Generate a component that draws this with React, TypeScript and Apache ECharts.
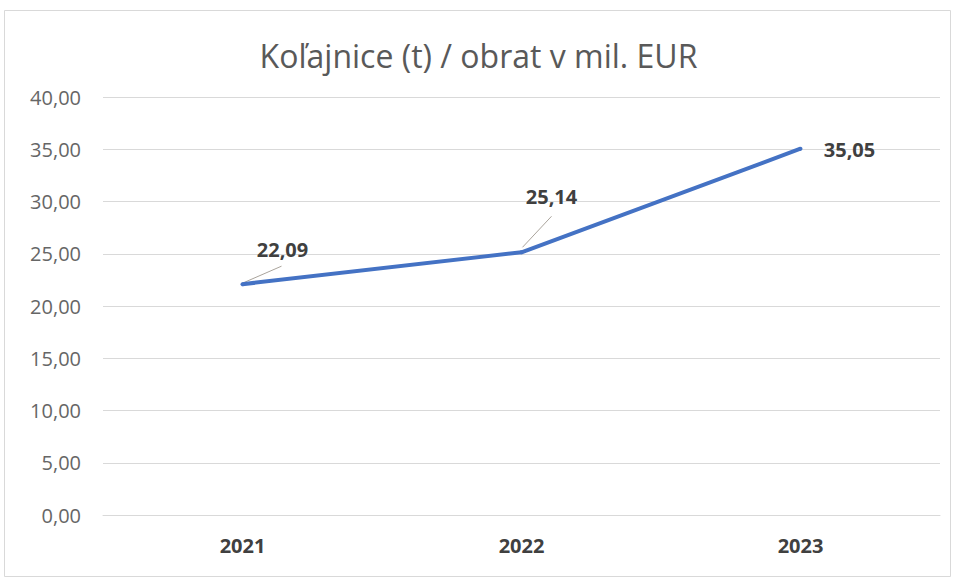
import React, { useEffect, useRef } from "react";
import * as echarts from "echarts";

const titleText = "Koľajnice (t) / obrat v mil. EUR";
const categories = ["2021", "2022", "2023"];
const values = [22.09, 25.14, 35.05];
const yMin = 0;
const yMax = 40;
const yInterval = 5;

const fmt = (v: number) => v.toFixed(2).replace(".", ",");

// label offsets from each point, and leader line segments (relative to each point)
const labelOffsets = [
  [40, -35],
  [30, -56],
  [49, 1],
];
const leaderLines: (number[] | null)[] = [
  [0, -1, 39, -18],
  [1, -5, 30, -36],
  null,
];

export default function App() {
  const ref = useRef<HTMLDivElement>(null);
  useEffect(() => {
    if (!ref.current) return;
    const chart = echarts.init(ref.current, undefined, { renderer: "svg" });
    chart.setOption({
      animation: false,
      backgroundColor: "#ffffff",
      textStyle: { fontFamily: "Open Sans" },
      title: {
        text: titleText,
        left: "center",
        top: 34,
        textStyle: { fontFamily: "Open Sans", fontSize: 32, fontWeight: "normal", color: "#595959" },
      },
      grid: { left: 103, right: 17, top: 97, bottom: 66, containLabel: false },
      xAxis: {
        type: "category",
        data: categories,
        boundaryGap: true,
        axisLine: { show: true, lineStyle: { color: "#d9d9d9", width: 1 } },
        axisTick: { show: false },
        axisLabel: { fontSize: 20, fontWeight: "bold", color: "#404040", margin: 20 },
      },
      yAxis: {
        type: "value",
        min: yMin,
        max: yMax,
        interval: yInterval,
        axisLine: { show: false },
        axisTick: { show: false },
        splitLine: { lineStyle: { color: "#d9d9d9", width: 1 } },
        axisLabel: { fontSize: 20, color: "#666666", margin: 22, formatter: (v: number) => fmt(v) },
      },
      series: [
        {
          type: "line",
          data: values.map((v, i) => ({
            value: v,
            label: { offset: labelOffsets[i] },
          })),
          symbol: "circle",
          symbolSize: 4,
          showSymbol: true,
          itemStyle: { color: "#4472C4" },
          lineStyle: { color: "#4472C4", width: 4 },
          label: {
            show: true,
            position: "inside",
            align: "center",
            verticalAlign: "middle",
            fontSize: 20,
            fontWeight: "bold",
            color: "#404040",
            formatter: (p: any) => fmt(p.value),
          },
        },
      ],
    });

    const graphics: any[] = [
      {
        type: "rect",
        shape: { x: 4.5, y: 10.5, width: 946, height: 566 },
        style: { fill: "none", stroke: "#d9d9d9", lineWidth: 1 },
        silent: true,
      },
    ];
    values.forEach((v, i) => {
      const seg = leaderLines[i];
      if (!seg) return;
      const p = chart.convertToPixel({ seriesIndex: 0 }, [i, v]) as number[];
      graphics.push({
        type: "line",
        shape: { x1: p[0] + seg[0], y1: p[1] + seg[1], x2: p[0] + seg[2], y2: p[1] + seg[3] },
        style: { stroke: "#aaa49c", lineWidth: 1 },
        silent: true,
      });
    });
    chart.setOption({ graphic: graphics });
    return () => chart.dispose();
  }, []);
  return <div ref={ref} style={{ position: "fixed", left: 0, top: 0, width: 957, height: 581 }} />;
}
